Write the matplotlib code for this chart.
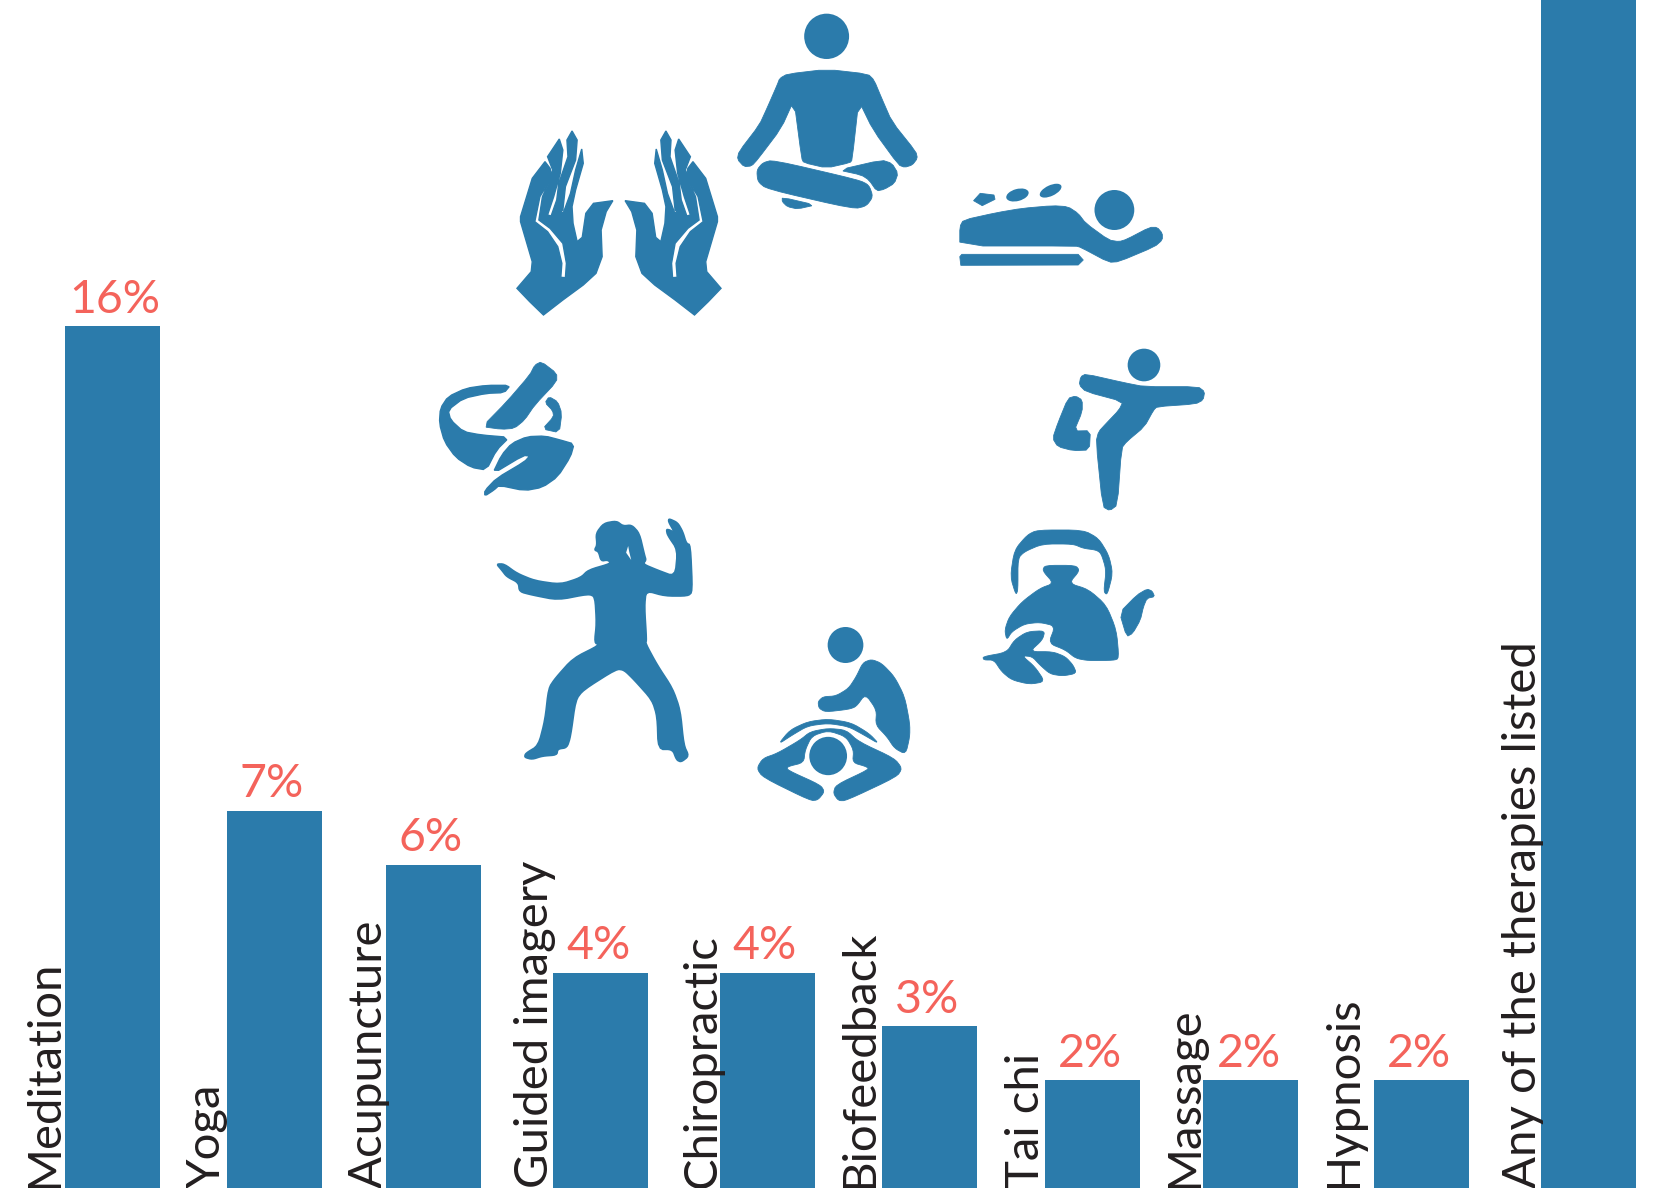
from matplotlib import pyplot as plt
from matplotlib.patches import Polygon, Ellipse
import numpy as np

categories = ['Meditation', 'Yoga', 'Acupuncture', 'Guided imagery', 'Chiropractic',
              'Biofeedback', 'Tai chi', 'Massage', 'Hypnosis', 'Any of the therapies listed']
values = [16, 7, 6, 4, 4, 3, 2, 2, 2, 23]
value_labels = ['16%', '7%', '6%', '4%', '4%', '3%', '2%', '2%', '2%', '']

# layout, in pixels of the 1659 wide picture
bar_left = [64.5, 226.5, 385.5, 553, 719.5, 882, 1044.5, 1203, 1373.5, 1540.5]
text_x = [58, 220, 382, 548, 716, 873, 1039, 1198, 1357, 1536]
label_shift = [3, -2, -2, -2, -2, -2, -2, -2, -2, 0]
bar_w = 95
blue = '#2B7BAB'
red = '#F4635B'
W, H = 1659, 1188
px_per_pct = 53.85

plt.rcParams['font.family'] = ['Lato', 'DejaVu Sans']
fig = plt.figure(figsize=(W / 100, H / 100), dpi=100)
ax = fig.add_axes([0, 0, 1, 1])
ax.set_xlim(0, W)
ax.set_ylim(0, H / px_per_pct)
ax.axis('off')

ax.bar(bar_left, values, width=bar_w, align='edge', color=blue)
for left, val, lab, name, tx, shift in zip(bar_left, values, value_labels, categories, text_x, label_shift):
    if lab:
        ax.annotate(lab, (left + bar_w / 2 + shift, val), xytext=(0, 9.8), textcoords='offset points',
                    ha='center', va='baseline', fontsize=33.5, color=red)
    ax.text(tx, 0, name, rotation=90, rotation_mode='anchor', ha='left', va='baseline',
            fontsize=34, color='#231F20')

ic = fig.add_axes([0, 0, 1, 1])
ic.set_xlim(0, W)
ic.set_ylim(H, 0)
ic.axis('off')


def chaikin(pts, rounds):
    pts = np.array(pts, dtype=float)
    for _ in range(rounds):
        nxt = np.roll(pts, -1, axis=0)
        pts = np.column_stack([0.8 * pts + 0.2 * nxt, 0.2 * pts + 0.8 * nxt]).reshape(-1, 2)
    return pts


def shape(pts, oy=0, rounds=2, color=blue, mirror=None, lw=0.6):
    pts = chaikin(pts, rounds)
    if mirror is not None:
        pts[:, 0] = mirror - pts[:, 0]
    xy = np.column_stack([420 + pts[:, 0] / 1.96, oy + pts[:, 1] / 3])
    ic.add_patch(Polygon(xy, closed=True, facecolor=color, edgecolor=color, lw=lw))


def dot(x, y, w, h, oy=0, angle=0):
    ic.add_patch(Ellipse((420 + x / 1.96, oy + y / 3), w / 1.96, h / 3, angle=angle, color=blue, lw=0))


# meditation
dot(797, 109, 88, 136)
shape([(720, 222), (797, 208), (878, 222), (890, 240), (905, 295), (925, 365), (972, 455), (975, 475),
       (965, 495), (950, 502), (938, 495), (888, 390), (860, 302), (847, 480), (843, 488), (797, 504),
       (752, 488), (748, 475), (733, 300), (708, 385), (662, 478), (650, 498), (635, 500), (622, 478),
       (625, 455), (665, 375), (680, 325), (700, 255), (705, 235)], rounds=1)
shape([(692, 480), (860, 540), (880, 555), (888, 590), (875, 618), (850, 627), (680, 567), (662, 545),
       (660, 510), (672, 488)], rounds=2)
shape([(820, 510), (905, 480), (925, 490), (937, 520), (930, 550), (910, 568), (895, 573), (880, 540),
       (865, 525)], rounds=1)
shape([(710, 592), (775, 615), (740, 627), (720, 620), (710, 605)], rounds=1)

# hot stones
shape([(1058, 738), (1058, 680), (1065, 660), (1130, 638), (1180, 625), (1240, 617), (1270, 620),
       (1290, 640), (1305, 670), (1350, 720), (1370, 725), (1385, 718), (1430, 682), (1445, 682),
       (1455, 700), (1455, 720), (1440, 740), (1370, 785), (1350, 787), (1295, 742), (1285, 738)], rounds=1)
shape([(1058, 770), (1062, 763), (1290, 763), (1300, 780), (1290, 795), (1060, 796)], rounds=0)
dot(1361, 630, 78, 120)
shape([(1098, 580), (1125, 585), (1127, 598), (1102, 617), (1085, 602)], rounds=0)
dot(1171, 585, 45, 36, angle=-15)
dot(1236, 572, 46, 32, angle=-25)

# yoga
dot(1419, 1095, 64, 98)
shape([(1305, 1122), (1380, 1148), (1420, 1160), (1525, 1160), (1538, 1175), (1535, 1200), (1520, 1212),
       (1445, 1220), (1438, 1230), (1420, 1280), (1385, 1325), (1375, 1345), (1367, 1515), (1352, 1532),
       (1338, 1520), (1325, 1325), (1330, 1295), (1345, 1270), (1370, 1230), (1378, 1205), (1305, 1175),
       (1292, 1155), (1295, 1130)], rounds=1)
shape([(1270, 1195), (1285, 1188), (1298, 1200), (1298, 1235), (1282, 1293), (1314, 1292), (1312, 1350),
       (1280, 1352), (1250, 1340), (1240, 1315), (1250, 1270)], rounds=1)

# hands
hand = [(190, 865), (218, 815), (220, 785), (197, 665), (197, 650), (220, 535), (245, 485), (255, 505),
        (258, 530), (245, 565), (235, 590), (225, 665), (250, 695), (270, 740), (278, 790), (276, 832),
        (285, 833), (287, 790), (280, 730), (255, 685), (233, 660), (240, 590), (255, 540), (260, 510),
        (250, 470), (273, 417), (280, 450), (275, 520), (262, 590), (250, 645), (257, 648), (268, 600),
        (272, 550), (290, 470), (288, 420), (298, 393), (308, 420), (305, 480), (285, 560), (280, 630),
        (275, 635), (281, 638), (295, 580), (305, 510), (317, 447), (320, 490), (305, 570), (298, 620),
        (300, 670), (308, 725), (318, 712), (325, 640), (340, 610), (378, 602), (365, 635), (355, 690),
        (357, 770), (345, 820), (320, 855), (280, 900), (242, 945), (215, 905)]
shape(hand, rounds=0, lw=1.0)
shape(hand, rounds=0, mirror=780, lw=1.0)

# mortar and leaf
shape([(177, 1156), (165, 1178), (130, 1180), (85, 1195), (55, 1230), (60, 1260), (85, 1295), (120, 1305),
       (175, 1312), (150, 1350), (130, 1410), (100, 1402), (70, 1372), (48, 1325), (38, 1270), (40, 1225),
       (55, 1190), (90, 1165), (130, 1156)], rounds=1, lw=1.0)
shape([(122, 1280), (170, 1205), (215, 1125), (225, 1095), (238, 1085), (268, 1120), (268, 1145), (225, 1215),
       (205, 1260), (185, 1285), (160, 1288)], rounds=1)
shape([(253, 1190), (270, 1205), (278, 1240), (273, 1298), (240, 1287), (262, 1250), (260, 1232), (245, 1208)],
      rounds=1)
shape([(302, 1332), (295, 1370), (270, 1430), (240, 1462), (205, 1472), (155, 1456), (145, 1470), (127, 1488),
       (127, 1472), (150, 1435), (205, 1385), (215, 1368), (203, 1366), (142, 1422), (160, 1365), (180, 1330),
       (210, 1310), (245, 1308), (275, 1320)], rounds=1, lw=1.0)

# tai chi
shape([(345, 160), (360, 130), (385, 123), (398, 138), (415, 135), (430, 160), (440, 225), (443, 240), (437, 252),
       (465, 270), (500, 290), (505, 210), (485, 165), (483, 148), (490, 150), (500, 160), (487, 125), (488, 116),
       (505, 128), (515, 155), (522, 190), (530, 195), (534, 335), (525, 348), (480, 348), (443, 332), (440, 380),
       (444, 480), (442, 490), (465, 555), (495, 625), (510, 690), (517, 795), (527, 828), (512, 846), (503, 840),
       (495, 808), (467, 808), (465, 710), (455, 660), (420, 600), (400, 570), (385, 567), (320, 630), (305, 660),
       (295, 770), (288, 803), (270, 807), (268, 825), (240, 828), (220, 838), (205, 832), (207, 820), (232, 797),
       (245, 720), (252, 625), (265, 595), (300, 535), (352, 495), (342, 488), (346, 430), (343, 350), (330, 342),
       (270, 360), (220, 345), (195, 335), (193, 308), (170, 290), (160, 270), (150, 252), (165, 252), (190, 280),
       (225, 302), (275, 313), (315, 293), (330, 270), (375, 250), (368, 240), (355, 243), (350, 215), (342, 210),
       (347, 195)], oy=480, rounds=2, lw=1.2)
shape([(408, 198), (404, 218), (414, 240), (410, 215)], oy=480, rounds=0, color='white', lw=0)

# massage
dot(834, 495, 70, 108, oy=480)
shape([(885, 538), (905, 550), (930, 590), (950, 650), (960, 730), (960, 770), (952, 823), (930, 805), (915, 770),
       (893, 735), (895, 690), (873, 642), (855, 680), (840, 688), (795, 696), (782, 685), (780, 665), (790, 650),
       (815, 648), (840, 625), (855, 590), (868, 548)], oy=480, rounds=2)
shape([(702, 793), (725, 750), (760, 725), (800, 717), (845, 728), (880, 760), (900, 792), (870, 765), (840, 740),
       (800, 730), (760, 738), (730, 765)], oy=480, rounds=2)
shape([(800, 745), (835, 750), (860, 785), (930, 835), (945, 865), (935, 890), (835, 962), (820, 962), (810, 940),
       (815, 915), (880, 868), (875, 860), (848, 848), (850, 810), (835, 770), (800, 752), (768, 768), (755, 810),
       (752, 848), (720, 860), (720, 870), (785, 915), (793, 935), (780, 960), (765, 962), (672, 892), (660, 865),
       (672, 835), (700, 820), (745, 780), (765, 755)], oy=480, rounds=2)
dot(800, 828, 74, 115, oy=480)

# teapot
shape([(1168, 345), (1157, 290), (1165, 210), (1190, 165), (1210, 150), (1300, 150), (1330, 175), (1350, 225),
       (1358, 280), (1347, 345), (1340, 335), (1345, 270), (1335, 220), (1325, 210), (1300, 205), (1280, 192),
       (1220, 192), (1185, 215), (1172, 235), (1172, 330)], oy=480, rounds=2)
shape([(1225, 256), (1285, 256), (1293, 272), (1272, 310), (1310, 328), (1345, 375), (1365, 450), (1370, 535),
       (1360, 541), (1310, 542), (1285, 535), (1265, 510), (1232, 490), (1245, 438), (1215, 427), (1185, 432),
       (1160, 455), (1150, 480), (1146, 450), (1155, 410), (1180, 365), (1215, 325), (1242, 310), (1220, 272)],
      oy=480, rounds=2)
shape([(1371, 398), (1405, 345), (1425, 327), (1435, 333), (1440, 350), (1425, 355), (1418, 380), (1412, 420),
       (1397, 460), (1385, 470)], oy=480, rounds=1)
shape([(1103, 530), (1150, 517), (1165, 480), (1190, 455), (1225, 452), (1220, 480), (1195, 515), (1240, 515),
       (1265, 530), (1280, 555), (1287, 580), (1260, 588), (1235, 582), (1215, 555), (1200, 530), (1180, 527),
       (1205, 560), (1225, 605), (1195, 613), (1160, 600), (1140, 575), (1125, 540), (1105, 540)], oy=480, rounds=2)

fig.savefig('out.png', dpi=100)
